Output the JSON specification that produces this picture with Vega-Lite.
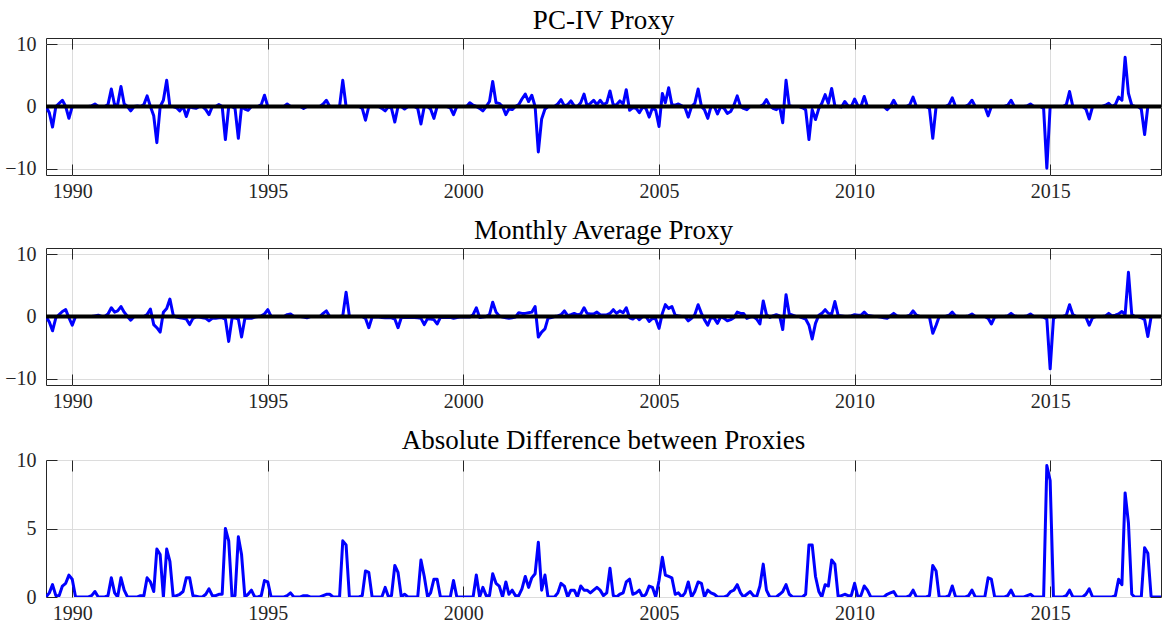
{
"$schema": "https://vega.github.io/schema/vega-lite/v6.json",
"background": "white",
"padding": {"left": 4, "top": 6, "right": 0, "bottom": 0},
"spacing": 14,
"datasets": {"m": [
{"d":"1989-05-01","pc":0,"ma":0,"ad":0},
{"d":"1989-06-01","pc":-1.0,"ma":-0.9,"ad":0.3},
{"d":"1989-07-01","pc":-3.3,"ma":-2.3,"ad":0.9},
{"d":"1989-08-01","pc":0,"ma":-0.2,"ad":0.1},
{"d":"1989-09-01","pc":0.5,"ma":0.3,"ad":0.1},
{"d":"1989-10-01","pc":1.0,"ma":0.8,"ad":0.8},
{"d":"1989-11-01","pc":0,"ma":1.1,"ad":1.0},
{"d":"1989-12-01","pc":-1.9,"ma":-0.2,"ad":1.6},
{"d":"1990-01-01","pc":0,"ma":-1.4,"ad":1.3},
{"d":"1990-02-01","pc":0,"ma":0,"ad":0},
{"d":"1990-03-01","pc":0,"ma":0,"ad":0},
{"d":"1990-04-01","pc":0,"ma":0,"ad":0},
{"d":"1990-05-01","pc":0,"ma":0,"ad":0},
{"d":"1990-06-01","pc":0,"ma":0,"ad":0},
{"d":"1990-07-01","pc":0.1,"ma":0,"ad":0.1},
{"d":"1990-08-01","pc":0.4,"ma":0.1,"ad":0.4},
{"d":"1990-09-01","pc":0,"ma":0.2,"ad":0},
{"d":"1990-10-01","pc":0,"ma":0,"ad":0},
{"d":"1990-11-01","pc":0,"ma":0,"ad":0},
{"d":"1990-12-01","pc":0.3,"ma":0.4,"ad":0.1},
{"d":"1991-01-01","pc":2.8,"ma":1.4,"ad":1.4},
{"d":"1991-02-01","pc":0.2,"ma":0.7,"ad":0.3},
{"d":"1991-03-01","pc":0.3,"ma":0.9,"ad":0},
{"d":"1991-04-01","pc":3.2,"ma":1.6,"ad":1.4},
{"d":"1991-05-01","pc":0.4,"ma":0.7,"ad":0.5},
{"d":"1991-06-01","pc":0,"ma":0,"ad":0},
{"d":"1991-07-01","pc":-0.7,"ma":-0.6,"ad":0},
{"d":"1991-08-01","pc":0,"ma":0,"ad":0},
{"d":"1991-09-01","pc":0.1,"ma":0,"ad":0},
{"d":"1991-10-01","pc":0,"ma":0,"ad":0.1},
{"d":"1991-11-01","pc":0.3,"ma":0,"ad":0.1},
{"d":"1991-12-01","pc":1.7,"ma":0.3,"ad":1.4},
{"d":"1992-01-01","pc":0,"ma":1.2,"ad":1.1},
{"d":"1992-02-01","pc":-1.5,"ma":-1.3,"ad":0.4},
{"d":"1992-03-01","pc":-5.8,"ma":-1.8,"ad":3.5},
{"d":"1992-04-01","pc":0,"ma":-2.5,"ad":3.1},
{"d":"1992-05-01","pc":1.0,"ma":0.7,"ad":0},
{"d":"1992-06-01","pc":4.2,"ma":1.3,"ad":3.5},
{"d":"1992-07-01","pc":0,"ma":2.8,"ad":2.6},
{"d":"1992-08-01","pc":0,"ma":0.2,"ad":0},
{"d":"1992-09-01","pc":-0.2,"ma":-0.1,"ad":0.1},
{"d":"1992-10-01","pc":-0.7,"ma":-0.2,"ad":0.2},
{"d":"1992-11-01","pc":0,"ma":-0.3,"ad":0.4},
{"d":"1992-12-01","pc":-1.6,"ma":-0.4,"ad":1.4},
{"d":"1993-01-01","pc":0,"ma":-1.3,"ad":1.4},
{"d":"1993-02-01","pc":-0.2,"ma":-0.3,"ad":0.1},
{"d":"1993-03-01","pc":-0.3,"ma":-0.1,"ad":0.05},
{"d":"1993-04-01","pc":0,"ma":-0.1,"ad":0},
{"d":"1993-05-01","pc":0,"ma":-0.2,"ad":0},
{"d":"1993-06-01","pc":-0.5,"ma":-0.3,"ad":0.2},
{"d":"1993-07-01","pc":-1.3,"ma":-0.7,"ad":0.6},
{"d":"1993-08-01","pc":0,"ma":-0.3,"ad":0.1},
{"d":"1993-09-01","pc":0,"ma":-0.3,"ad":0.1},
{"d":"1993-10-01","pc":0.3,"ma":-0.2,"ad":0.2},
{"d":"1993-11-01","pc":0,"ma":-0.2,"ad":0.2},
{"d":"1993-12-01","pc":-5.3,"ma":-0.4,"ad":5.0},
{"d":"1994-01-01","pc":0,"ma":-4.0,"ad":4.1},
{"d":"1994-02-01","pc":0,"ma":-0.3,"ad":0},
{"d":"1994-03-01","pc":-0.3,"ma":-0.2,"ad":0.1},
{"d":"1994-04-01","pc":-5.1,"ma":-0.4,"ad":4.4},
{"d":"1994-05-01","pc":0,"ma":-3.3,"ad":3.1},
{"d":"1994-06-01","pc":-0.4,"ma":-0.3,"ad":0},
{"d":"1994-07-01","pc":-0.6,"ma":-0.3,"ad":0.2},
{"d":"1994-08-01","pc":0,"ma":-0.3,"ad":0.5},
{"d":"1994-09-01","pc":0,"ma":-0.1,"ad":0},
{"d":"1994-10-01","pc":0,"ma":0,"ad":0},
{"d":"1994-11-01","pc":0.3,"ma":0.1,"ad":0.1},
{"d":"1994-12-01","pc":1.8,"ma":0.4,"ad":1.2},
{"d":"1995-01-01","pc":0,"ma":1.1,"ad":1.1},
{"d":"1995-02-01","pc":0,"ma":0,"ad":0},
{"d":"1995-03-01","pc":0,"ma":0,"ad":0},
{"d":"1995-04-01","pc":0,"ma":0,"ad":0},
{"d":"1995-05-01","pc":0,"ma":0,"ad":0},
{"d":"1995-06-01","pc":0,"ma":0,"ad":0},
{"d":"1995-07-01","pc":0.4,"ma":0.3,"ad":0.1},
{"d":"1995-08-01","pc":0,"ma":0.4,"ad":0.3},
{"d":"1995-09-01","pc":0,"ma":0,"ad":0},
{"d":"1995-10-01","pc":0,"ma":0,"ad":0},
{"d":"1995-11-01","pc":0,"ma":0,"ad":0},
{"d":"1995-12-01","pc":-0.3,"ma":-0.1,"ad":0.1},
{"d":"1996-01-01","pc":0,"ma":-0.2,"ad":0.1},
{"d":"1996-02-01","pc":0,"ma":0,"ad":0},
{"d":"1996-03-01","pc":0,"ma":0,"ad":0},
{"d":"1996-04-01","pc":0,"ma":0,"ad":0},
{"d":"1996-05-01","pc":0,"ma":0,"ad":0},
{"d":"1996-06-01","pc":0.4,"ma":0.5,"ad":0.1},
{"d":"1996-07-01","pc":1.0,"ma":0.9,"ad":0.2},
{"d":"1996-08-01","pc":0,"ma":0,"ad":0.2},
{"d":"1996-09-01","pc":0,"ma":0,"ad":0},
{"d":"1996-10-01","pc":0,"ma":0,"ad":0},
{"d":"1996-11-01","pc":0,"ma":0,"ad":0},
{"d":"1996-12-01","pc":4.2,"ma":0.1,"ad":4.1},
{"d":"1997-01-01","pc":0,"ma":3.9,"ad":3.8},
{"d":"1997-02-01","pc":0,"ma":0,"ad":0},
{"d":"1997-03-01","pc":0,"ma":0,"ad":0},
{"d":"1997-04-01","pc":0,"ma":0,"ad":0},
{"d":"1997-05-01","pc":0,"ma":0,"ad":0},
{"d":"1997-06-01","pc":-0.3,"ma":0,"ad":0.1},
{"d":"1997-07-01","pc":-2.2,"ma":-0.3,"ad":1.9},
{"d":"1997-08-01","pc":0,"ma":-1.8,"ad":1.8},
{"d":"1997-09-01","pc":0,"ma":-0.1,"ad":0},
{"d":"1997-10-01","pc":0,"ma":-0.1,"ad":0},
{"d":"1997-11-01","pc":0,"ma":-0.1,"ad":0},
{"d":"1997-12-01","pc":-0.3,"ma":-0.15,"ad":0},
{"d":"1998-01-01","pc":-0.7,"ma":-0.2,"ad":0.7},
{"d":"1998-02-01","pc":0,"ma":-0.15,"ad":0},
{"d":"1998-03-01","pc":-0.3,"ma":-0.2,"ad":0.1},
{"d":"1998-04-01","pc":-2.5,"ma":-0.4,"ad":2.3},
{"d":"1998-05-01","pc":0,"ma":-1.8,"ad":1.8},
{"d":"1998-06-01","pc":0,"ma":-0.15,"ad":0},
{"d":"1998-07-01","pc":-0.4,"ma":-0.15,"ad":0.2},
{"d":"1998-08-01","pc":0,"ma":-0.15,"ad":0},
{"d":"1998-09-01","pc":0,"ma":-0.15,"ad":0},
{"d":"1998-10-01","pc":0,"ma":-0.15,"ad":0},
{"d":"1998-11-01","pc":-0.3,"ma":-0.2,"ad":0},
{"d":"1998-12-01","pc":-2.8,"ma":-0.3,"ad":2.7},
{"d":"1999-01-01","pc":0,"ma":-1.3,"ad":1.5},
{"d":"1999-02-01","pc":0,"ma":-0.3,"ad":0},
{"d":"1999-03-01","pc":-0.4,"ma":-0.4,"ad":0.3},
{"d":"1999-04-01","pc":-1.9,"ma":-0.5,"ad":1.3},
{"d":"1999-05-01","pc":0,"ma":-1.2,"ad":1.3},
{"d":"1999-06-01","pc":0,"ma":-0.15,"ad":0},
{"d":"1999-07-01","pc":0,"ma":-0.15,"ad":0},
{"d":"1999-08-01","pc":0,"ma":-0.15,"ad":0},
{"d":"1999-09-01","pc":-0.2,"ma":-0.15,"ad":0},
{"d":"1999-10-01","pc":-1.3,"ma":-0.3,"ad":1.2},
{"d":"1999-11-01","pc":0,"ma":-0.15,"ad":0},
{"d":"1999-12-01","pc":0,"ma":-0.1,"ad":0},
{"d":"2000-01-01","pc":0,"ma":-0.1,"ad":0},
{"d":"2000-02-01","pc":0,"ma":-0.1,"ad":0},
{"d":"2000-03-01","pc":0.6,"ma":-0.1,"ad":0},
{"d":"2000-04-01","pc":0.2,"ma":0.3,"ad":0},
{"d":"2000-05-01","pc":0,"ma":1.4,"ad":1.6},
{"d":"2000-06-01","pc":-0.3,"ma":-0.15,"ad":0},
{"d":"2000-07-01","pc":-0.7,"ma":-0.1,"ad":0.7},
{"d":"2000-08-01","pc":0,"ma":0,"ad":0.1},
{"d":"2000-09-01","pc":0.8,"ma":0.3,"ad":0.1},
{"d":"2000-10-01","pc":4.0,"ma":2.3,"ad":1.7},
{"d":"2000-11-01","pc":0.6,"ma":0.7,"ad":1.0},
{"d":"2000-12-01","pc":0.5,"ma":0.1,"ad":0.8},
{"d":"2001-01-01","pc":0,"ma":-0.1,"ad":0},
{"d":"2001-02-01","pc":-1.3,"ma":-0.2,"ad":1.1},
{"d":"2001-03-01","pc":-0.4,"ma":-0.3,"ad":0.2},
{"d":"2001-04-01","pc":-0.5,"ma":-0.2,"ad":0.5},
{"d":"2001-05-01","pc":0,"ma":-0.1,"ad":0.1},
{"d":"2001-06-01","pc":0.3,"ma":0.6,"ad":0.1},
{"d":"2001-07-01","pc":1.2,"ma":0.5,"ad":0.6},
{"d":"2001-08-01","pc":2.0,"ma":0.5,"ad":1.5},
{"d":"2001-09-01","pc":0.8,"ma":0.6,"ad":0.7},
{"d":"2001-10-01","pc":1.8,"ma":0.7,"ad":1.4},
{"d":"2001-11-01","pc":0,"ma":1.6,"ad":1.7},
{"d":"2001-12-01","pc":-7.3,"ma":-3.3,"ad":4.0},
{"d":"2002-01-01","pc":-2.0,"ma":-2.5,"ad":0.5},
{"d":"2002-02-01","pc":-0.4,"ma":-2.0,"ad":1.6},
{"d":"2002-03-01","pc":0,"ma":-0.3,"ad":0},
{"d":"2002-04-01","pc":0,"ma":-0.15,"ad":0},
{"d":"2002-05-01","pc":0,"ma":0,"ad":0},
{"d":"2002-06-01","pc":0.4,"ma":0.1,"ad":0.3},
{"d":"2002-07-01","pc":1.1,"ma":0.3,"ad":1.0},
{"d":"2002-08-01","pc":0.1,"ma":0.9,"ad":0.8},
{"d":"2002-09-01","pc":0.3,"ma":0.15,"ad":0},
{"d":"2002-10-01","pc":0.9,"ma":0.3,"ad":0.5},
{"d":"2002-11-01","pc":0.1,"ma":0.5,"ad":0.5},
{"d":"2002-12-01","pc":0,"ma":0.25,"ad":0},
{"d":"2003-01-01","pc":0.6,"ma":0.4,"ad":0.8},
{"d":"2003-02-01","pc":2.0,"ma":1.4,"ad":0.5},
{"d":"2003-03-01","pc":0.1,"ma":0.5,"ad":0.5},
{"d":"2003-04-01","pc":0.5,"ma":0.4,"ad":0.3},
{"d":"2003-05-01","pc":1.0,"ma":0.4,"ad":0.5},
{"d":"2003-06-01","pc":0.3,"ma":0.7,"ad":0.7},
{"d":"2003-07-01","pc":1.0,"ma":0.3,"ad":0.5},
{"d":"2003-08-01","pc":0.3,"ma":0.25,"ad":0.1},
{"d":"2003-09-01","pc":0.6,"ma":0.25,"ad":0.3},
{"d":"2003-10-01","pc":2.5,"ma":0.5,"ad":2.1},
{"d":"2003-11-01","pc":0.2,"ma":1.1,"ad":0.1},
{"d":"2003-12-01","pc":0.3,"ma":0.5,"ad":0},
{"d":"2004-01-01","pc":0.9,"ma":0.9,"ad":0.2},
{"d":"2004-02-01","pc":0.4,"ma":0.6,"ad":0.3},
{"d":"2004-03-01","pc":2.7,"ma":1.4,"ad":1.1},
{"d":"2004-04-01","pc":-0.6,"ma":-0.2,"ad":1.3},
{"d":"2004-05-01","pc":-0.2,"ma":-0.4,"ad":0.2},
{"d":"2004-06-01","pc":-0.3,"ma":0,"ad":0.3},
{"d":"2004-07-01","pc":-1.0,"ma":-0.5,"ad":0.5},
{"d":"2004-08-01","pc":-0.1,"ma":0,"ad":0},
{"d":"2004-09-01","pc":-0.3,"ma":0,"ad":0.2},
{"d":"2004-10-01","pc":-1.7,"ma":-0.8,"ad":0.8},
{"d":"2004-11-01","pc":-0.2,"ma":-0.3,"ad":0.7},
{"d":"2004-12-01","pc":-0.6,"ma":-0.4,"ad":0},
{"d":"2005-01-01","pc":-3.2,"ma":-1.9,"ad":1.2},
{"d":"2005-02-01","pc":2.1,"ma":0.5,"ad":2.9},
{"d":"2005-03-01","pc":0.6,"ma":1.9,"ad":1.6},
{"d":"2005-04-01","pc":3.0,"ma":1.3,"ad":1.5},
{"d":"2005-05-01","pc":0.3,"ma":1.6,"ad":1.4},
{"d":"2005-06-01","pc":0.2,"ma":0.2,"ad":0.2},
{"d":"2005-07-01","pc":0.4,"ma":0.1,"ad":0.3},
{"d":"2005-08-01","pc":0.1,"ma":0,"ad":0},
{"d":"2005-09-01","pc":-0.2,"ma":0,"ad":0.3},
{"d":"2005-10-01","pc":-1.7,"ma":-0.7,"ad":1.1},
{"d":"2005-11-01","pc":0,"ma":-0.3,"ad":0},
{"d":"2005-12-01","pc":0.5,"ma":0.3,"ad":0.4},
{"d":"2006-01-01","pc":2.8,"ma":1.9,"ad":1.1},
{"d":"2006-02-01","pc":0,"ma":0.5,"ad":1.0},
{"d":"2006-03-01","pc":-0.5,"ma":-0.5,"ad":0},
{"d":"2006-04-01","pc":-1.9,"ma":-1.4,"ad":0.5},
{"d":"2006-05-01","pc":0,"ma":-0.15,"ad":0.3},
{"d":"2006-06-01","pc":0,"ma":-0.3,"ad":0.2},
{"d":"2006-07-01","pc":-1.2,"ma":-1.1,"ad":0},
{"d":"2006-08-01","pc":0,"ma":0,"ad":0},
{"d":"2006-09-01","pc":-0.3,"ma":-0.3,"ad":0},
{"d":"2006-10-01","pc":-1.1,"ma":-0.7,"ad":0.1},
{"d":"2006-11-01","pc":-0.8,"ma":-0.5,"ad":0.4},
{"d":"2006-12-01","pc":0.2,"ma":-0.2,"ad":0.5},
{"d":"2007-01-01","pc":1.7,"ma":0.7,"ad":0.9},
{"d":"2007-02-01","pc":0,"ma":0.5,"ad":0.3},
{"d":"2007-03-01","pc":-0.3,"ma":0.5,"ad":0},
{"d":"2007-04-01","pc":-0.5,"ma":-0.3,"ad":0.2},
{"d":"2007-05-01","pc":0,"ma":-0.1,"ad":0.4},
{"d":"2007-06-01","pc":0,"ma":0,"ad":0.1},
{"d":"2007-07-01","pc":0,"ma":-0.4,"ad":0},
{"d":"2007-08-01","pc":0,"ma":-1.2,"ad":0.8},
{"d":"2007-09-01","pc":0.3,"ma":2.5,"ad":2.4},
{"d":"2007-10-01","pc":1.1,"ma":0.3,"ad":0.5},
{"d":"2007-11-01","pc":0.1,"ma":-0.15,"ad":0},
{"d":"2007-12-01","pc":-0.3,"ma":0.1,"ad":0},
{"d":"2008-01-01","pc":-0.5,"ma":0.3,"ad":0},
{"d":"2008-02-01","pc":0,"ma":0.1,"ad":0.2},
{"d":"2008-03-01","pc":-2.6,"ma":-2.1,"ad":0.4},
{"d":"2008-04-01","pc":4.2,"ma":3.5,"ad":0.9},
{"d":"2008-05-01","pc":0.1,"ma":0.4,"ad":0.2},
{"d":"2008-06-01","pc":0,"ma":0.2,"ad":0},
{"d":"2008-07-01","pc":0,"ma":0,"ad":0},
{"d":"2008-08-01","pc":0,"ma":0,"ad":0},
{"d":"2008-09-01","pc":-0.2,"ma":-0.2,"ad":0},
{"d":"2008-10-01","pc":-0.5,"ma":-0.4,"ad":0.2},
{"d":"2008-11-01","pc":-5.3,"ma":-1.4,"ad":3.8},
{"d":"2008-12-01","pc":-0.5,"ma":-3.6,"ad":3.8},
{"d":"2009-01-01","pc":-2.1,"ma":-1.1,"ad":1.5},
{"d":"2009-02-01","pc":-0.3,"ma":0.2,"ad":0.4},
{"d":"2009-03-01","pc":0.5,"ma":0.5,"ad":0},
{"d":"2009-04-01","pc":1.9,"ma":1.1,"ad":0.9},
{"d":"2009-05-01","pc":0.5,"ma":0.5,"ad":0.8},
{"d":"2009-06-01","pc":2.9,"ma":0.4,"ad":2.7},
{"d":"2009-07-01","pc":0.1,"ma":2.4,"ad":2.4},
{"d":"2009-08-01","pc":0,"ma":0.15,"ad":0},
{"d":"2009-09-01","pc":-0.1,"ma":0.1,"ad":0.1},
{"d":"2009-10-01","pc":0.8,"ma":0,"ad":0.2},
{"d":"2009-11-01","pc":0.1,"ma":0,"ad":0.1},
{"d":"2009-12-01","pc":0,"ma":0.1,"ad":0.1},
{"d":"2010-01-01","pc":1.2,"ma":0.3,"ad":1.0},
{"d":"2010-02-01","pc":0.1,"ma":0.2,"ad":0},
{"d":"2010-03-01","pc":0,"ma":0.2,"ad":0.1},
{"d":"2010-04-01","pc":1.6,"ma":0.7,"ad":0.8},
{"d":"2010-05-01","pc":0,"ma":0.2,"ad":0.5},
{"d":"2010-06-01","pc":0,"ma":0.1,"ad":0},
{"d":"2010-07-01","pc":0,"ma":0,"ad":0},
{"d":"2010-08-01","pc":0,"ma":0,"ad":0},
{"d":"2010-09-01","pc":0,"ma":-0.1,"ad":0},
{"d":"2010-10-01","pc":0,"ma":-0.2,"ad":0},
{"d":"2010-11-01","pc":-0.5,"ma":-0.3,"ad":0.2},
{"d":"2010-12-01","pc":0,"ma":0.1,"ad":0.3},
{"d":"2011-01-01","pc":1.0,"ma":0.5,"ad":0.4},
{"d":"2011-02-01","pc":0,"ma":0.1,"ad":0},
{"d":"2011-03-01","pc":0,"ma":0,"ad":0},
{"d":"2011-04-01","pc":0,"ma":0,"ad":0},
{"d":"2011-05-01","pc":0,"ma":0,"ad":0},
{"d":"2011-06-01","pc":0.3,"ma":0.2,"ad":0.1},
{"d":"2011-07-01","pc":1.5,"ma":0.9,"ad":0.5},
{"d":"2011-08-01","pc":0,"ma":0.2,"ad":0},
{"d":"2011-09-01","pc":0,"ma":0,"ad":0},
{"d":"2011-10-01","pc":0,"ma":0,"ad":0},
{"d":"2011-11-01","pc":0,"ma":0,"ad":0},
{"d":"2011-12-01","pc":-0.3,"ma":-0.1,"ad":0.1},
{"d":"2012-01-01","pc":-5.1,"ma":-2.7,"ad":2.3},
{"d":"2012-02-01","pc":0,"ma":-1.4,"ad":1.9},
{"d":"2012-03-01","pc":0,"ma":0,"ad":0},
{"d":"2012-04-01","pc":0,"ma":0,"ad":0},
{"d":"2012-05-01","pc":0,"ma":0,"ad":0},
{"d":"2012-06-01","pc":0.3,"ma":0.2,"ad":0.1},
{"d":"2012-07-01","pc":1.4,"ma":0.7,"ad":0.8},
{"d":"2012-08-01","pc":0,"ma":0.1,"ad":0},
{"d":"2012-09-01","pc":0,"ma":0,"ad":0},
{"d":"2012-10-01","pc":0,"ma":0,"ad":0},
{"d":"2012-11-01","pc":0,"ma":0,"ad":0},
{"d":"2012-12-01","pc":0.3,"ma":0.1,"ad":0.1},
{"d":"2013-01-01","pc":1.0,"ma":0.4,"ad":0.5},
{"d":"2013-02-01","pc":0,"ma":0,"ad":0},
{"d":"2013-03-01","pc":0,"ma":0,"ad":0},
{"d":"2013-04-01","pc":0,"ma":0,"ad":0},
{"d":"2013-05-01","pc":0,"ma":0,"ad":0},
{"d":"2013-06-01","pc":-1.5,"ma":-0.3,"ad":1.4},
{"d":"2013-07-01","pc":0,"ma":-1.2,"ad":1.3},
{"d":"2013-08-01","pc":0,"ma":-0.1,"ad":0},
{"d":"2013-09-01","pc":0,"ma":0,"ad":0},
{"d":"2013-10-01","pc":0,"ma":0,"ad":0},
{"d":"2013-11-01","pc":0,"ma":0,"ad":0},
{"d":"2013-12-01","pc":0.2,"ma":0.1,"ad":0.1},
{"d":"2014-01-01","pc":1.0,"ma":0.5,"ad":0.5},
{"d":"2014-02-01","pc":0,"ma":0.1,"ad":0},
{"d":"2014-03-01","pc":0,"ma":0,"ad":0},
{"d":"2014-04-01","pc":0,"ma":0,"ad":0},
{"d":"2014-05-01","pc":0,"ma":0,"ad":0},
{"d":"2014-06-01","pc":0.1,"ma":0.1,"ad":0.1},
{"d":"2014-07-01","pc":0.4,"ma":0.4,"ad":0.2},
{"d":"2014-08-01","pc":0,"ma":0,"ad":0},
{"d":"2014-09-01","pc":0,"ma":0,"ad":0},
{"d":"2014-10-01","pc":0,"ma":0,"ad":0},
{"d":"2014-11-01","pc":-0.3,"ma":-0.1,"ad":0},
{"d":"2014-12-01","pc":-9.9,"ma":-0.4,"ad":9.6},
{"d":"2015-01-01","pc":0,"ma":-8.4,"ad":8.5},
{"d":"2015-02-01","pc":0,"ma":-0.3,"ad":0},
{"d":"2015-03-01","pc":0,"ma":0,"ad":0},
{"d":"2015-04-01","pc":0,"ma":0,"ad":0},
{"d":"2015-05-01","pc":0,"ma":0,"ad":0},
{"d":"2015-06-01","pc":0.3,"ma":0.2,"ad":0.1},
{"d":"2015-07-01","pc":2.4,"ma":1.9,"ad":0.5},
{"d":"2015-08-01","pc":0,"ma":0.3,"ad":0},
{"d":"2015-09-01","pc":0,"ma":0,"ad":0},
{"d":"2015-10-01","pc":0,"ma":0,"ad":0},
{"d":"2015-11-01","pc":0,"ma":0,"ad":0},
{"d":"2015-12-01","pc":-0.4,"ma":-0.1,"ad":0.2},
{"d":"2016-01-01","pc":-2.0,"ma":-1.4,"ad":0.6},
{"d":"2016-02-01","pc":0,"ma":-0.2,"ad":0},
{"d":"2016-03-01","pc":0,"ma":0,"ad":0},
{"d":"2016-04-01","pc":0,"ma":0,"ad":0},
{"d":"2016-05-01","pc":0,"ma":0,"ad":0},
{"d":"2016-06-01","pc":0.2,"ma":0.1,"ad":0},
{"d":"2016-07-01","pc":0.5,"ma":0.5,"ad":0},
{"d":"2016-08-01","pc":0,"ma":0.1,"ad":0},
{"d":"2016-09-01","pc":0.3,"ma":0.2,"ad":0.1},
{"d":"2016-10-01","pc":1.5,"ma":0.4,"ad":1.3},
{"d":"2016-11-01","pc":1.0,"ma":0.8,"ad":0.9},
{"d":"2016-12-01","pc":7.9,"ma":0.3,"ad":7.6},
{"d":"2017-01-01","pc":2.1,"ma":7.1,"ad":5.4},
{"d":"2017-02-01","pc":0.2,"ma":0.3,"ad":0.2},
{"d":"2017-03-01","pc":0,"ma":0,"ad":0},
{"d":"2017-04-01","pc":0,"ma":0,"ad":0},
{"d":"2017-05-01","pc":-0.4,"ma":-0.2,"ad":0},
{"d":"2017-06-01","pc":-4.5,"ma":-0.5,"ad":3.6},
{"d":"2017-07-01","pc":0,"ma":-3.2,"ad":3.2},
{"d":"2017-08-01","pc":0,"ma":0,"ad":0},
{"d":"2017-09-01","pc":0,"ma":0,"ad":0},
{"d":"2017-10-01","pc":0,"ma":0,"ad":0},
{"d":"2017-11-01","pc":0,"ma":0,"ad":0}
]},
"vconcat": [
{
 "width": 1115, "height": 137,
 "title": "PC-IV Proxy",
 "data": {"name": "m"},
 "layer": [
  {"mark": {"type": "line", "color": "#0000ff", "strokeWidth": 3, "strokeJoin": "round", "clip": true},
   "encoding": {
    "x": {"field": "d", "type": "temporal", "scale": {"nice": false}, "axis": {"orient": "bottom", "format": "%Y", "tickCount": {"interval": "year", "step": 5}, "grid": true, "title": null}},
    "y": {"field": "pc", "type": "quantitative", "scale": {"domain": [-11, 11], "nice": false}, "axis": {"orient": "left", "values": [-10, 0, 10], "grid": true, "title": null}}
   }},
  {"mark": {"type": "line", "opacity": 0},
   "encoding": {
    "x": {"field": "d", "type": "temporal", "axis": {"orient": "top", "labels": false, "grid": false, "tickCount": {"interval": "year", "step": 5}, "title": null}},
    "y": {"field": "pc", "type": "quantitative", "axis": {"orient": "right", "labels": false, "grid": false, "values": [-10, 0, 10], "title": null}}
   }},
  {"data": {"values": [{}]}, "mark": {"type": "rule", "color": "black", "strokeWidth": 4},
   "encoding": {"y": {"datum": 0, "type": "quantitative", "axis": null}}}
 ],
 "resolve": {"axis": {"x": "independent", "y": "independent"}}
},
{
 "width": 1115, "height": 137,
 "title": "Monthly Average Proxy",
 "data": {"name": "m"},
 "layer": [
  {"mark": {"type": "line", "color": "#0000ff", "strokeWidth": 3, "strokeJoin": "round", "clip": true},
   "encoding": {
    "x": {"field": "d", "type": "temporal", "scale": {"nice": false}, "axis": {"orient": "bottom", "format": "%Y", "tickCount": {"interval": "year", "step": 5}, "grid": true, "title": null}},
    "y": {"field": "ma", "type": "quantitative", "scale": {"domain": [-11, 11], "nice": false}, "axis": {"orient": "left", "values": [-10, 0, 10], "grid": true, "title": null}}
   }},
  {"mark": {"type": "line", "opacity": 0},
   "encoding": {
    "x": {"field": "d", "type": "temporal", "axis": {"orient": "top", "labels": false, "grid": false, "tickCount": {"interval": "year", "step": 5}, "title": null}},
    "y": {"field": "ma", "type": "quantitative", "axis": {"orient": "right", "labels": false, "grid": false, "values": [-10, 0, 10], "title": null}}
   }},
  {"data": {"values": [{}]}, "mark": {"type": "rule", "color": "black", "strokeWidth": 4},
   "encoding": {"y": {"datum": 0, "type": "quantitative", "axis": null}}}
 ],
 "resolve": {"axis": {"x": "independent", "y": "independent"}}
},
{
 "width": 1115, "height": 137,
 "title": {"text": "Absolute Difference between Proxies", "offset": -5},
 "data": {"name": "m"},
 "layer": [
  {"mark": {"type": "line", "color": "#0000ff", "strokeWidth": 3, "strokeJoin": "round", "clip": true},
   "encoding": {
    "x": {"field": "d", "type": "temporal", "scale": {"nice": false}, "axis": {"orient": "bottom", "format": "%Y", "tickCount": {"interval": "year", "step": 5}, "grid": true, "title": null}},
    "y": {"field": "ad", "type": "quantitative", "scale": {"domain": [0, 10], "nice": false}, "axis": {"orient": "left", "values": [0, 5, 10], "grid": true, "title": null}}
   }},
  {"mark": {"type": "line", "opacity": 0},
   "encoding": {
    "x": {"field": "d", "type": "temporal", "axis": {"orient": "top", "labels": false, "grid": false, "tickCount": {"interval": "year", "step": 5}, "title": null}},
    "y": {"field": "ad", "type": "quantitative", "axis": {"orient": "right", "labels": false, "grid": false, "values": [0, 5, 10], "title": null}}
   }}
 ],
 "resolve": {"axis": {"x": "independent", "y": "independent"}}
}
],
"config": {
 "font": "Liberation Serif",
 "view": {"stroke": "#262626", "strokeWidth": 1},
 "axis": {"labelFont": "Liberation Serif", "labelFontSize": 20, "labelColor": "#262626", "tickColor": "#262626", "tickSize": -11, "tickWidth": 1, "domain": false, "gridColor": "#dcdcdc", "gridWidth": 1, "minExtent": 0},
 "axisX": {"labelPadding": 17, "labelFlush": false},
 "axisY": {"labelPadding": 21, "minExtent": 0},
 "title": {"font": "Liberation Serif", "fontSize": 27, "fontWeight": "normal", "color": "#000000", "offset": -1, "anchor": "middle", "frame": "group"}
}
}
